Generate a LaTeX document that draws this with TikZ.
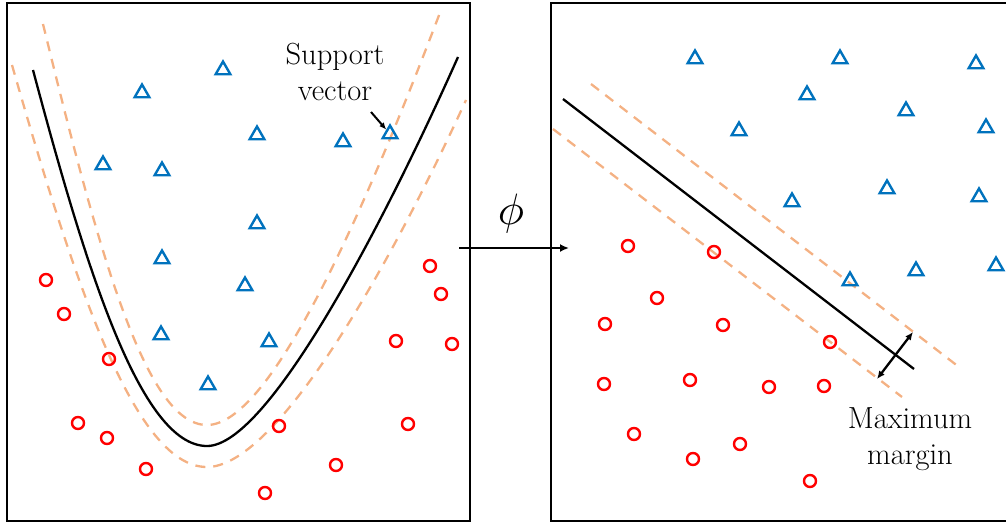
\documentclass[tikz,border=0pt]{standalone}
\usepackage{tikz}
\usetikzlibrary{arrows.meta,shapes.geometric}
\definecolor{SVMBlue}{HTML}{0072BD}
\definecolor{SVMRed}{HTML}{FF0000}
\definecolor{SVMMargin}{HTML}{F4B183}

\begin{document}
\begin{tikzpicture}[
  x=1pt,y=-1pt,
  frame/.style={draw=black,line width=2.8pt},
  posclass/.style={regular polygon,regular polygon sides=3,draw=SVMBlue,line width=2.4pt,inner sep=0pt,minimum size=17pt},
  negclass/.style={circle,draw=SVMRed,line width=2.4pt,inner sep=0pt,minimum size=12pt},
  bound/.style={draw=black,line width=2.3pt},
  marg/.style={draw=SVMMargin,line width=2.3pt,dash pattern=on 10pt off 8pt},
  lbl/.style={inner sep=0pt,align=center,font=\fontsize{30.5}{36.5}\selectfont},
  maparrow/.style={-{Latex[length=9pt,width=8pt]},line width=2.3pt},
  svarrow/.style={-{Latex[length=7pt,width=6pt]},line width=2pt},
  gaparrow/.style={{Latex[length=8pt,width=7pt]}-{Latex[length=8pt,width=7pt]},line width=2.3pt},
]
\useasboundingbox (0,0) rectangle (1006,525);
\draw[frame] (7,3) rectangle (470,521);
\draw[frame] (1006,3) -- (551,3) -- (551,521) -- (1006,521);

\draw[marg] (43,24) .. controls (98,249) and (145,425) .. (207,425)
            .. controls (270,425) and (362,218) .. (441,10);
\draw[marg] (12,65) .. controls (75,285) and (135,467) .. (207,467)
            .. controls (272,467) and (379,290) .. (466,100);
\draw[bound] (33,70) .. controls (85,265) and (140,446) .. (207,446)
             .. controls (270,446) and (390,210) .. (458,57);

\foreach \p [count=\i] in {(142,93),(223,70),(257,135),(343,142),(103,165),(162,171),(257,224),(162,259),(245,286),(161,335),(269,342),(208,385)}
  \node[posclass] (a\i) at \p {};
\node[posclass] (sv) at (390,134) {};
\foreach \p [count=\i] in {(46,280),(64,314),(109,359),(78,423),(107,438),(146,469),(265,493),(279,426),(336,465),(408,424),(396,341),(452,344),(441,294),(430,266)}
  \node[negclass] (c\i) at \p {};

\node[lbl] (svlabel) at (335,72) {Support\\vector};
\coordinate (svfrom) at (371,112);
\draw[svarrow] (svfrom) -- (sv);

\coordinate (mapfrom) at (459,248);
\coordinate (mapto) at (569,248);
\draw[maparrow] (mapfrom) -- (mapto);
\node[inner sep=0pt,scale=4.4] (phi) at (511,213) {$\phi$};

\draw[marg] (591,84) -- (959,367);
\draw[marg] (553,129) -- (902,397);
\draw[bound] (563,99) -- (914,369);

\foreach \p [count=\i] in {(695,59),(840,59),(976,64),(807,95),(906,111),(739,131),(986,128),(792,202),(887,189),(979,197),(850,281),(916,271),(996,266)}
  \node[posclass] (b\i) at \p {};
\foreach \p [count=\i] in {(628,246),(714,252),(657,298),(605,324),(723,325),(830,342),(604,384),(690,380),(769,387),(824,386),(634,434),(740,444),(693,459),(810,481)}
  \node[negclass] (d\i) at \p {};

\coordinate (gaplo) at (877,379);
\coordinate (gaphi) at (913,332);
\draw[gaparrow] (gaplo) -- (gaphi);
\node[lbl] (mmlabel) at (910,439) {Maximum\\margin};
\end{tikzpicture}
\end{document}
